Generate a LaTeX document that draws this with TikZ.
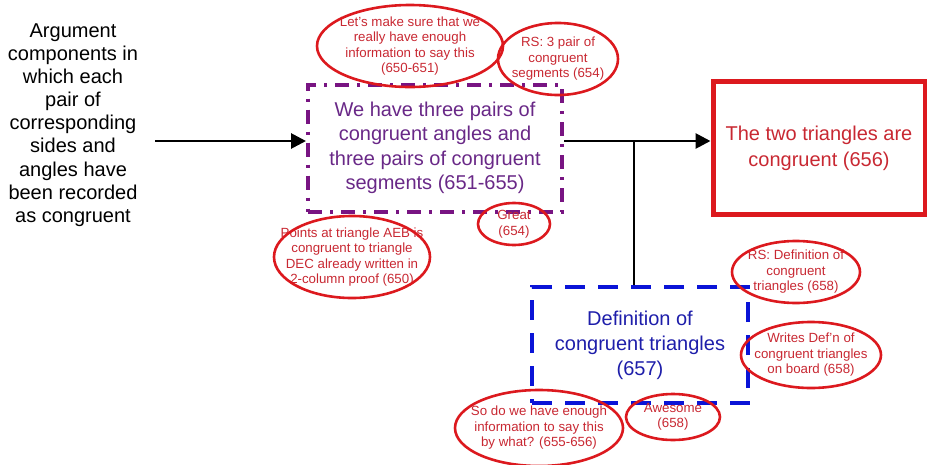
\documentclass[tikz,border=0pt]{standalone}
\usepackage{fontspec}
\setmainfont{Liberation Sans}
\usetikzlibrary{shapes.geometric,arrows.meta}
\definecolor{pbox}{RGB}{120,20,130}
\definecolor{ptext}{RGB}{105,40,135}
\definecolor{rline}{RGB}{220,25,30}
\definecolor{rtext}{RGB}{200,40,50}
\definecolor{bline}{RGB}{10,20,215}
\definecolor{btext}{RGB}{30,30,170}
\tikzset{
  note/.style={inner sep=0pt, align=center,
    text=rtext, font=\fontsize{13.3}{15.5}\selectfont},
  noteline/.style={draw=rline, line width=2.6pt},
  bigtext/.style={align=center, font=\fontsize{20}{24.5}\selectfont},
  conn/.style={line width=2.8pt, -{Triangle[length=15pt,width=15pt]}},
  plain/.style={line width=2.8pt}
}
\begin{document}
\begin{tikzpicture}[x=1pt,y=-1pt]
\useasboundingbox (0,0) rectangle (927,464);
\node[bigtext, font=\fontsize{20}{23.1}\selectfont] (left) at (73,125)
  {Argument\\components in\\which each\\pair of\\corresponding\\sides and\\angles have\\been recorded\\as congruent};
\node[bigtext, text=ptext, draw=pbox, line width=4pt, dash pattern=on 14pt off 8pt on 3pt off 8pt,
  minimum width=254pt, minimum height=127pt, inner sep=0pt] (claim) at (435,148)
  {We have three pairs of\\congruent angles and\\three pairs of congruent\\segments (651-655)};
\node[bigtext, text=rtext, draw=rline, line width=5pt, font=\fontsize{20}{26}\selectfont,
  minimum width=212pt, minimum height=133pt, inner sep=0pt] (concl) at (819,148)
  {The two triangles are\\congruent (656)};
\node[bigtext, text=btext, draw=bline, line width=4pt, dash pattern=on 20pt off 13pt,
  font=\fontsize{20}{25}\selectfont,
  minimum width=216pt, minimum height=116pt, inner sep=0pt] (warrant) at (640,345)
  {Definition of\\congruent triangles\\(657)};
\coordinate (leftend) at (155,141);
\coordinate (junc) at (634,141);
\draw[conn] (leftend) -- (claim.west |- leftend);
\draw[conn] (claim.east |- junc) -- (concl.west |- junc);
\draw[plain] (junc) -- (junc |- warrant.north);
\node[note] (n1) at (410,46)
  {Let's make sure that we\\really have enough\\information to say this\\(650-651)};
\draw[noteline] (n1.center) ellipse [x radius=93pt, y radius=41pt];
\node[note] (n2) at (558,59)
  {RS: 3 pair of\\congruent\\segments (654)};
\draw[noteline] (n2.center) ellipse [x radius=60pt, y radius=36pt];
\node[note] (n3) at (514,224)
  {Great\\(654)};
\draw[noteline] (n3.center) ellipse [x radius=36pt, y radius=21pt];
\node[note] (n4) at (352,257)
  {Points at triangle AEB is\\congruent to triangle\\DEC already written in\\2-column proof (650)};
\draw[noteline] (n4.center) ellipse [x radius=78pt, y radius=41pt];
\node[note] (n5) at (796,272)
  {RS: Definition of\\congruent\\triangles (658)};
\draw[noteline] (n5.center) ellipse [x radius=64pt, y radius=31pt];
\node[note] (n6) at (811,355)
  {Writes Def'n of\\congruent triangles\\on board (658)};
\draw[noteline] (n6.center) ellipse [x radius=70pt, y radius=33pt];
\node[note] (n7) at (673,417)
  {Awesome\\(658)};
\draw[noteline] (n7.center) ellipse [x radius=47pt, y radius=23pt];
\node[note] (n8) at (539,428)
  {So do we have enough\\information to say this\\by what? (655-656)};
\draw[noteline] (n8.center) ellipse [x radius=84pt, y radius=38pt];
\end{tikzpicture}
\end{document}
